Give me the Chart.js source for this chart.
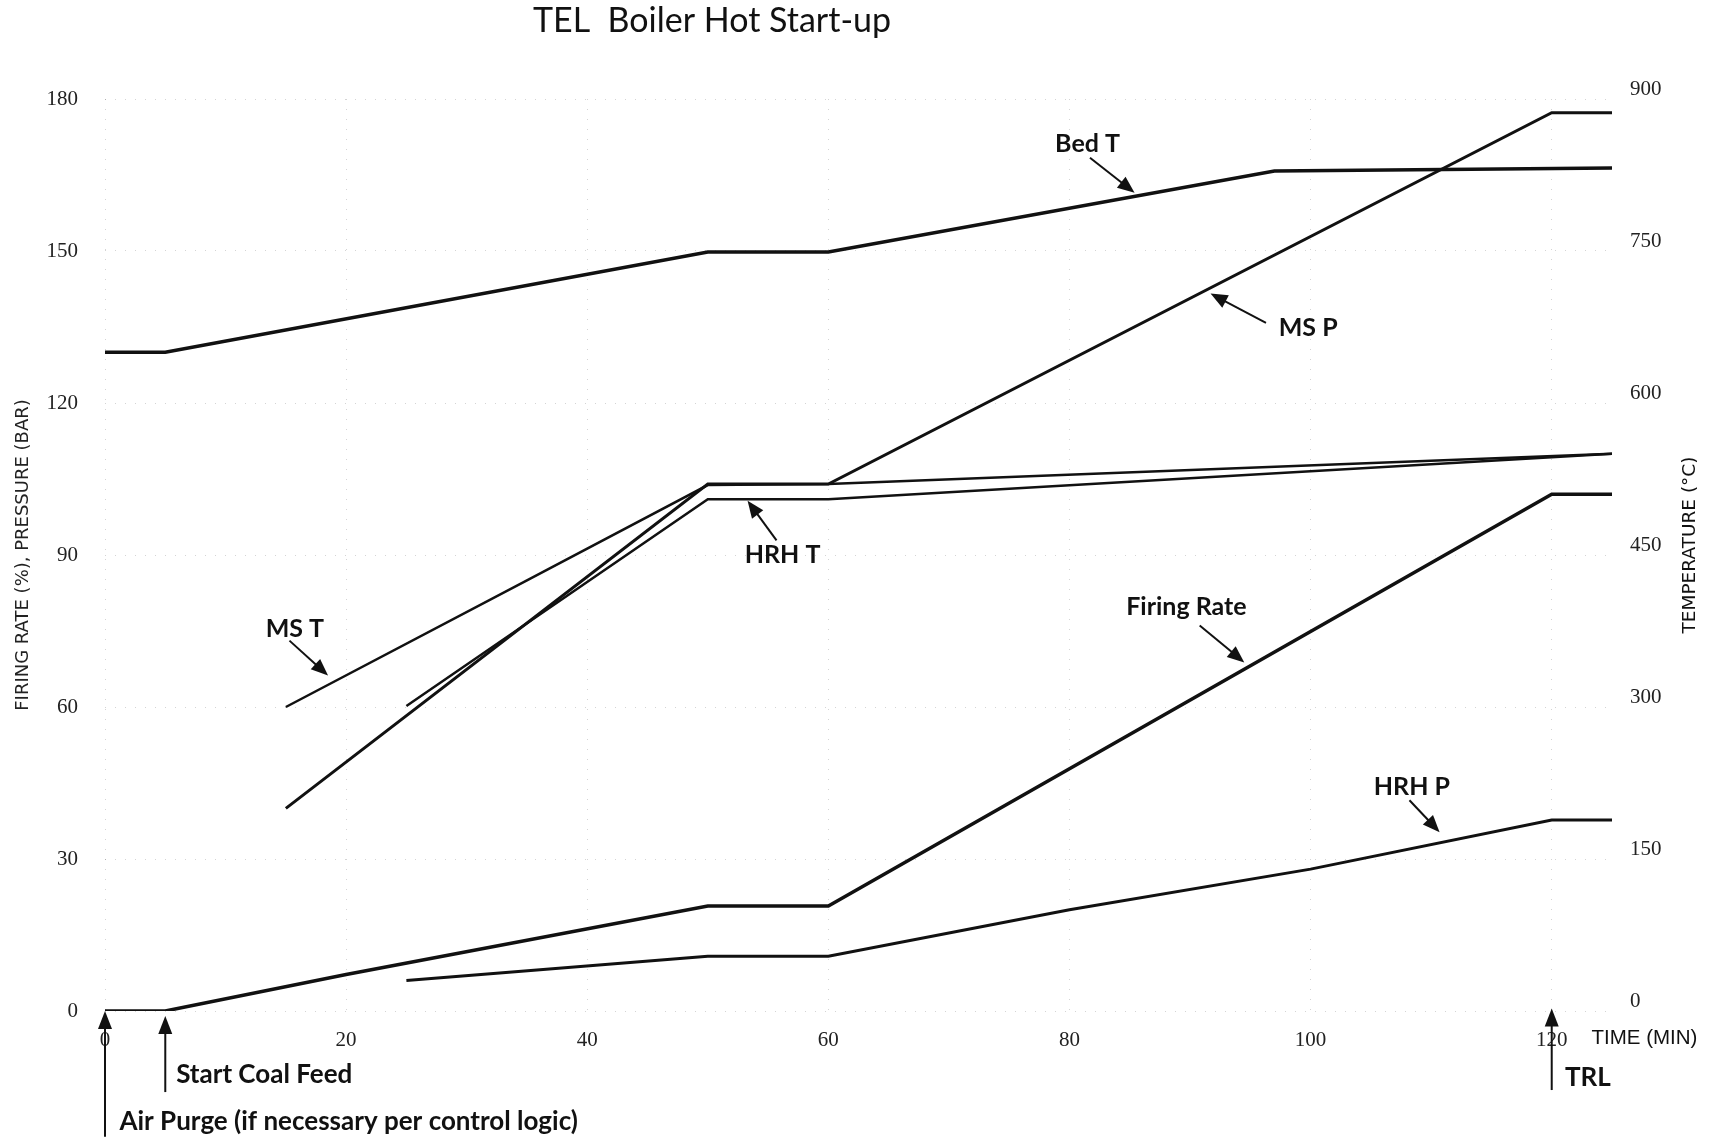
<!DOCTYPE html>
<html>
<head>
<meta charset="utf-8">
<title>TEL Boiler Hot Start-up</title>
<script src="https://cdn.jsdelivr.net/npm/chart.js@4.4.1/dist/chart.umd.min.js"></script>
<style>
    html, body { margin: 0; padding: 0; background: #fff; }
</style>
</head>
<body>
<canvas id="startupChart" width="1714" height="1140"></canvas>
<script>
// Tick labels
const timeTicks = [0, 20, 40, 60, 80, 100, 120];
const leftTicks = [0, 30, 60, 90, 120, 150, 180];
const tempTicks = [0, 150, 300, 450, 600, 750, 900];

// Firing rate (%)
const firingTime = [0, 5, 20, 50, 60, 120, 125];
const firingRate = [0, 0, 7.2, 20.7, 20.7, 102, 102];

// Main steam pressure (bar)
const msPTime = [15, 50, 60, 120, 125];
const msP = [40, 104, 104, 177.3, 177.3];

// Hot reheat pressure (bar)
const hrhPTime = [25, 50, 60, 80, 100, 120, 125];
const hrhP = [6, 10.8, 10.8, 20, 28, 37.7, 37.7];

// Bed temperature (°C)
const bedTTime = [0, 5, 50, 60, 97, 125];
const bedT = [650, 650, 749, 749, 829, 832];

// Main steam temperature (°C)
const msTTime = [15, 35, 50, 60, 125];
const msT = [300, 425, 519, 520, 550];

// Hot reheat temperature (°C)
const hrhTTime = [25, 50, 60, 125];
const hrhT = [301, 505, 505, 550];

// Curve call-outs: text position and arrow, in (min, left-axis units)
const curveNotes = [
    { text: 'Bed T', at: [81.5, 171.1], from: [81.7, 168.4], to: [85.4, 161.5] },
    { text: 'MS P', at: [99.8, 134.9], from: [96.3, 135.8], to: [91.7, 141.6] },
    { text: 'HRH T', at: [56.2, 90.1], from: [55.7, 92.9], to: [53.3, 100.7] },
    { text: 'MS T', at: [15.75, 75.5], from: [15.3, 73.1], to: [18.5, 66.2] },
    { text: 'Firing Rate', at: [89.7, 79.7], from: [90.8, 76.1], to: [94.5, 68.8] },
    { text: 'HRH P', at: [108.4, 44.2], from: [108.2, 41.6], to: [110.7, 35.3] }
];

// Event markers below the time axis
const eventNotes = [
    { text: 'Air Purge (if necessary per control logic)', t: 0, tail: -24.8, tip: 0, at: [1.2, -21.9] },
    { text: 'Start Coal Feed', t: 5, tail: -16, tip: -1, at: [5.9, -12.6] },
    { text: 'TRL', t: 120, tail: -15.6, tip: 0.5, at: [121.1, -13.2] }
];

const ink = '#111';
const gridColor = 'rgba(0, 0, 0, 0.17)';

const pts = (xs, ys) => xs.map((t, i) => ({ x: t, y: ys[i] }));

const drawArrow = (ctx, x1, y1, x2, y2, len, half) => {
    const a = Math.atan2(y2 - y1, x2 - x1);
    const bx = x2 - len * Math.cos(a);
    const by = y2 - len * Math.sin(a);
    ctx.beginPath();
    ctx.moveTo(x1, y1);
    ctx.lineTo(bx + 2 * Math.cos(a), by + 2 * Math.sin(a));
    ctx.stroke();
    ctx.beginPath();
    ctx.moveTo(x2, y2);
    ctx.lineTo(bx + half * Math.sin(a), by - half * Math.cos(a));
    ctx.lineTo(bx - half * Math.sin(a), by + half * Math.cos(a));
    ctx.closePath();
    ctx.fill();
};

const notesPlugin = {
    id: 'notes',
    afterDraw(chart) {
        const { ctx, scales: { x, y } } = chart;
        ctx.save();
        ctx.fillStyle = ink;
        ctx.strokeStyle = ink;

        // title
        ctx.font = "34px 'Lato', sans-serif";
        ctx.textAlign = 'center';
        ctx.textBaseline = 'middle';
        ctx.fillText('TEL  Boiler Hot Start-up', 712, 21);

        // curve call-outs
        ctx.font = "bold 25px 'Lato', sans-serif";
        ctx.lineWidth = 2;
        curveNotes.forEach(n => {
            ctx.fillText(n.text, x.getPixelForValue(n.at[0]), y.getPixelForValue(n.at[1]));
            drawArrow(ctx,
                x.getPixelForValue(n.from[0]), y.getPixelForValue(n.from[1]),
                x.getPixelForValue(n.to[0]), y.getPixelForValue(n.to[1]), 17, 7);
        });

        // event markers
        ctx.font = "bold 26px 'Lato', sans-serif";
        ctx.textAlign = 'left';
        eventNotes.forEach(n => {
            const px = x.getPixelForValue(n.t);
            drawArrow(ctx, px, y.getPixelForValue(n.tail), px, y.getPixelForValue(n.tip), 18, 7);
            ctx.fillText(n.text, x.getPixelForValue(n.at[0]), y.getPixelForValue(n.at[1]));
        });

        // axis names not handled by the scales
        ctx.font = "20.5px 'Liberation Sans', sans-serif";
        ctx.fillText('TIME (MIN)', x.getPixelForValue(123.3), y.getPixelForValue(-5.3));

        ctx.font = "18.5px 'DejaVu Sans', sans-serif";
        ctx.textAlign = 'center';
        ctx.translate(1690, 545);
        ctx.rotate(-Math.PI / 2);
        ctx.fillText('TEMPERATURE (°C)', 0, 0);
        ctx.restore();
    }
};

const line = (label, data, axis, width) => ({
    label: label,
    data: data,
    yAxisID: axis,
    borderColor: ink,
    borderWidth: width,
    pointRadius: 0,
    fill: false,
    tension: 0
});

const tickFont = { family: "'Liberation Serif', serif", size: 21 };

new Chart(document.getElementById('startupChart'), {
    type: 'line',
    data: {
        datasets: [
            line('Firing Rate', pts(firingTime, firingRate), 'y', 3.5),
            line('MS P', pts(msPTime, msP), 'y', 3),
            line('HRH P', pts(hrhPTime, hrhP), 'y', 3),
            line('Bed T', pts(bedTTime, bedT), 'y1', 3.5),
            line('MS T', pts(msTTime, msT), 'y1', 2.5),
            line('HRH T', pts(hrhTTime, hrhT), 'y1', 2.5)
        ]
    },
    options: {
        responsive: false,
        animation: false,
        layout: { padding: { top: 99, left: 0, right: 0, bottom: 0 } },
        plugins: { legend: { display: false }, tooltip: { enabled: false } },
        scales: {
            x: {
                type: 'linear', min: 0, max: 125,
                afterBuildTicks: s => { s.ticks = timeTicks.map(v => ({ value: v })); },
                afterFit: s => { s.height = 129; },
                ticks: { color: '#222', font: tickFont, padding: 17, maxRotation: 0 },
                grid: { color: gridColor, lineWidth: 1, drawTicks: false },
                border: { display: false, dash: [1, 9] }
            },
            y: {
                position: 'left', min: 0, max: 180,
                afterBuildTicks: s => { s.ticks = leftTicks.map(v => ({ value: v })); },
                afterFit: s => { s.width = 105; },
                ticks: { color: '#222', font: tickFont, padding: 27 },
                title: {
                    display: true, text: 'FIRING RATE (%), PRESSURE (BAR)', color: '#222',
                    font: { family: "'DejaVu Sans', sans-serif", size: 18 }, padding: { top: 13, bottom: 0 }
                },
                grid: { color: gridColor, lineWidth: 1, drawTicks: false },
                border: { display: false, dash: [1, 9] }
            },
            y1: {
                position: 'right', min: 0, max: 900,
                afterBuildTicks: s => { s.ticks = tempTicks.map(v => ({ value: v })); },
                afterFit: s => { s.width = 102; },
                ticks: { color: '#222', font: tickFont, padding: 18, labelOffset: -10 },
                grid: { display: false, drawTicks: false },
                border: { display: false }
            }
        }
    },
    plugins: [notesPlugin]
});
</script>
</body>
</html>
